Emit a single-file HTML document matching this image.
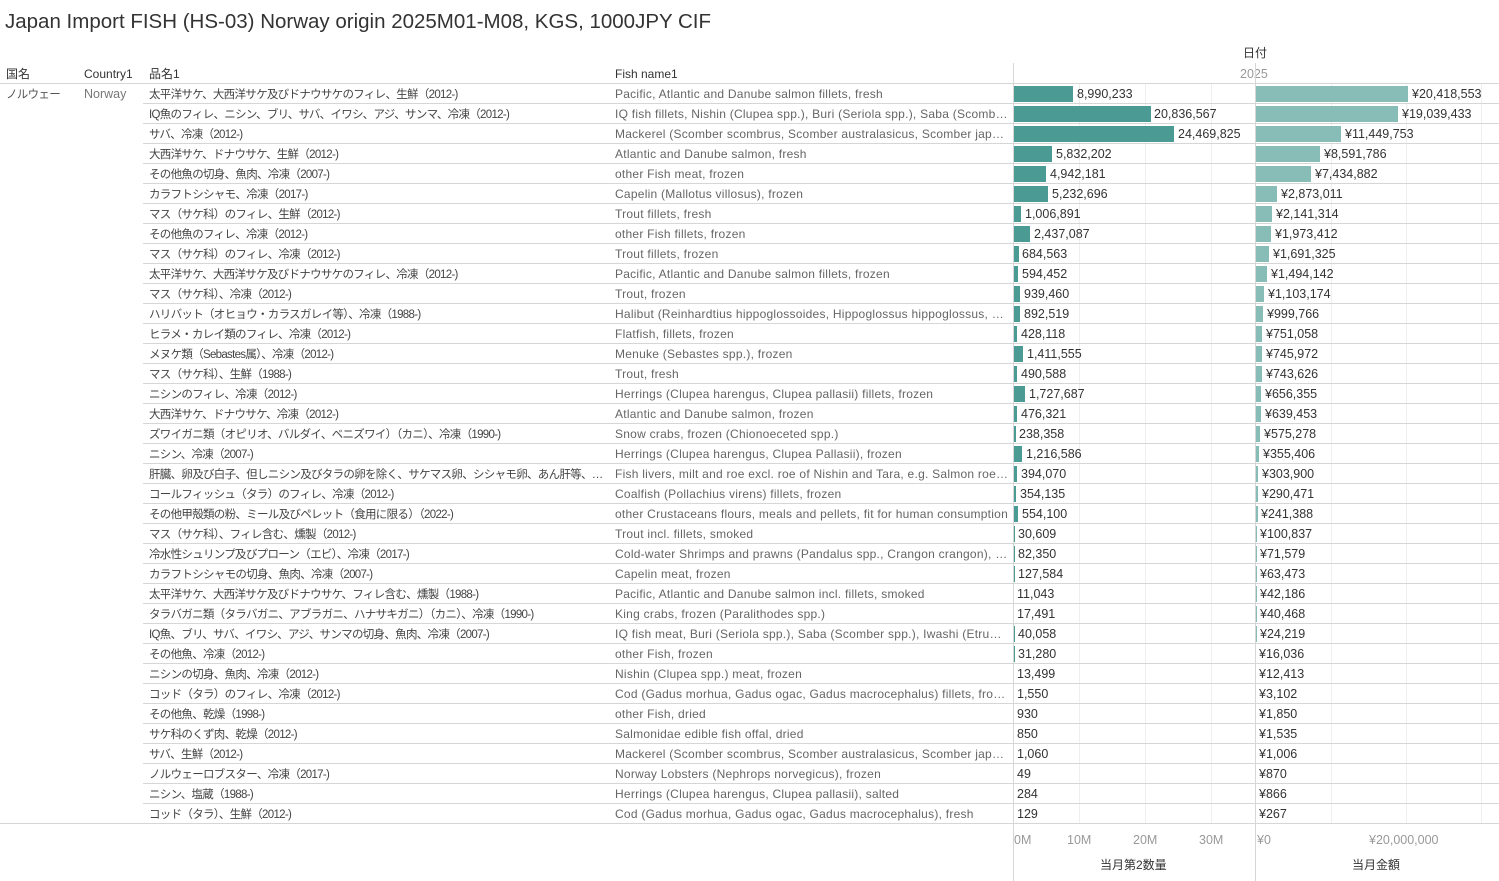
<!DOCTYPE html>
<html><head><meta charset="utf-8">
<style>
body{margin:0;width:1499px;height:881px;background:#fff;position:relative;overflow:hidden;font-family:"Liberation Sans","Noto Sans CJK JP",sans-serif;color:#333}
.a{position:absolute;white-space:nowrap;line-height:14px}
.t{font-size:20.5px;left:5px;top:11px;color:#333;line-height:22px}
.h{font-size:12px;top:67px;color:#333}
.r{position:absolute;left:0;width:1499px;height:20px;font-size:12.5px}
.r span{position:absolute;top:3px;line-height:14px;white-space:nowrap;overflow:hidden;text-overflow:ellipsis}
.r span.j{left:149px;top:4px;width:460px;color:#444;font-size:11.5px;letter-spacing:-0.7px}
.e{left:615px;width:395px;color:#666;font-size:12px;letter-spacing:0.25px}
.q{position:absolute;left:1014px;top:2px;height:16px;background:#4c9a94}
.m{position:absolute;left:1256px;top:2px;height:16px;background:#87bdb6}
.ln{position:absolute;background:#d6d6d6}
.g{position:absolute;top:84px;height:740px;width:1px;background:#efefef}
.tk{position:absolute;top:833px;font-size:12.5px;color:#999;line-height:14px}
</style></head><body>
<div class="a t">Japan Import FISH (HS-03) Norway origin 2025M01-M08, KGS, 1000JPY CIF</div>
<div class="a" style="left:1243px;top:46px;font-size:12px">日付</div>
<div class="a" style="left:1240px;top:67px;font-size:12.5px;color:#999">2025</div>
<div class="a h" style="left:6px">国名</div>
<div class="a h" style="left:84px">Country1</div>
<div class="a h" style="left:149px">品名1</div>
<div class="a h" style="left:615px">Fish name1</div>
<div class="a" style="left:6px;top:88px;font-size:11.5px;letter-spacing:-0.7px;color:#555">ノルウェー</div>
<div class="a" style="left:84px;top:87px;font-size:12.5px;color:#777">Norway</div>
<div class="g" style="left:1079px"></div><div class="g" style="left:1145px"></div><div class="g" style="left:1211px"></div>
<div class="g" style="left:1331px"></div><div class="g" style="left:1406px"></div><div class="g" style="left:1481px"></div>
<div class="ln" style="left:0;top:83px;width:1499px;height:1px"></div>
<div class="ln" style="left:0;top:823px;width:1499px;height:1px"></div>
<div class="ln" style="left:1013px;top:63px;width:1px;height:818px"></div>
<div class="ln" style="left:1255px;top:63px;width:1px;height:818px"></div>
<div id="rows"></div>
<div class="tk" style="left:1014px">0M</div>
<div class="tk" style="left:1067px">10M</div>
<div class="tk" style="left:1133px">20M</div>
<div class="tk" style="left:1199px">30M</div>
<div class="tk" style="left:1257px">¥0</div>
<div class="tk" style="left:1369px">¥20,000,000</div>
<div class="a" style="left:1100px;top:858px;font-size:12px">当月第2数量</div>
<div class="a" style="left:1352px;top:858px;font-size:12px">当月金額</div>
<script>
var d=[
["太平洋サケ、大西洋サケ及びドナウサケのフィレ、生鮮（2012-)","Pacific, Atlantic and Danube salmon fillets, fresh",8990233,20418553],
["IQ魚のフィレ、ニシン、ブリ、サバ、イワシ、アジ、サンマ、冷凍（2012-)","IQ fish fillets, Nishin (Clupea spp.), Buri (Seriola spp.), Saba (Scomber spp.)",20836567,19039433],
["サバ、冷凍（2012-)","Mackerel (Scomber scombrus, Scomber australasicus, Scomber japonicus)",24469825,11449753],
["大西洋サケ、ドナウサケ、生鮮（2012-)","Atlantic and Danube salmon, fresh",5832202,8591786],
["その他魚の切身、魚肉、冷凍（2007-)","other Fish meat, frozen",4942181,7434882],
["カラフトシシャモ、冷凍（2017-)","Capelin (Mallotus villosus), frozen",5232696,2873011],
["マス（サケ科）のフィレ、生鮮（2012-)","Trout fillets, fresh",1006891,2141314],
["その他魚のフィレ、冷凍（2012-)","other Fish fillets, frozen",2437087,1973412],
["マス（サケ科）のフィレ、冷凍（2012-)","Trout fillets, frozen",684563,1691325],
["太平洋サケ、大西洋サケ及びドナウサケのフィレ、冷凍（2012-)","Pacific, Atlantic and Danube salmon fillets, frozen",594452,1494142],
["マス（サケ科）、冷凍（2012-)","Trout, frozen",939460,1103174],
["ハリバット（オヒョウ・カラスガレイ等）、冷凍（1988-)","Halibut (Reinhardtius hippoglossoides, Hippoglossus hippoglossus, Hippoglossus)",892519,999766],
["ヒラメ・カレイ類のフィレ、冷凍（2012-)","Flatfish, fillets, frozen",428118,751058],
["メヌケ類（Sebastes属）、冷凍（2012-)","Menuke (Sebastes spp.), frozen",1411555,745972],
["マス（サケ科）、生鮮（1988-)","Trout, fresh",490588,743626],
["ニシンのフィレ、冷凍（2012-)","Herrings (Clupea harengus, Clupea pallasii) fillets, frozen",1727687,656355],
["大西洋サケ、ドナウサケ、冷凍（2012-)","Atlantic and Danube salmon, frozen",476321,639453],
["ズワイガニ類（オピリオ、バルダイ、ベニズワイ）（カニ）、冷凍（1990-)","Snow crabs, frozen (Chionoeceted spp.)",238358,575278],
["ニシン、冷凍（2007-)","Herrings (Clupea harengus, Clupea Pallasii), frozen",1216586,355406],
["肝臓、卵及び白子、但しニシン及びタラの卵を除く、サケマス卵、シシャモ卵、あん肝等、冷凍（2012-)","Fish livers, milt and roe excl. roe of Nishin and Tara, e.g. Salmon roe, Capelin roe",394070,303900],
["コールフィッシュ（タラ）のフィレ、冷凍（2012-)","Coalfish (Pollachius virens) fillets, frozen",354135,290471],
["その他甲殻類の粉、ミール及びペレット（食用に限る）（2022-)","other Crustaceans flours, meals and pellets, fit for human consumption",554100,241388],
["マス（サケ科）、フィレ含む、燻製（2012-)","Trout incl. fillets, smoked",30609,100837],
["冷水性シュリンプ及びプローン（エビ）、冷凍（2017-)","Cold-water Shrimps and prawns (Pandalus spp., Crangon crangon), frozen",82350,71579],
["カラフトシシャモの切身、魚肉、冷凍（2007-)","Capelin meat, frozen",127584,63473],
["太平洋サケ、大西洋サケ及びドナウサケ、フィレ含む、燻製（1988-)","Pacific, Atlantic and Danube salmon incl. fillets, smoked",11043,42186],
["タラバガニ類（タラバガニ、アブラガニ、ハナサキガニ）（カニ）、冷凍（1990-)","King crabs, frozen (Paralithodes spp.)",17491,40468],
["IQ魚、ブリ、サバ、イワシ、アジ、サンマの切身、魚肉、冷凍（2007-)","IQ fish meat, Buri (Seriola spp.), Saba (Scomber spp.), Iwashi (Etrumeus)",40058,24219],
["その他魚、冷凍（2012-)","other Fish, frozen",31280,16036],
["ニシンの切身、魚肉、冷凍（2012-)","Nishin (Clupea spp.) meat, frozen",13499,12413],
["コッド（タラ）のフィレ、冷凍（2012-)","Cod (Gadus morhua, Gadus ogac, Gadus macrocephalus) fillets, frozen",1550,3102],
["その他魚、乾燥（1998-)","other Fish, dried",930,1850],
["サケ科のくず肉、乾燥（2012-)","Salmonidae edible fish offal, dried",850,1535],
["サバ、生鮮（2012-)","Mackerel (Scomber scombrus, Scomber australasicus, Scomber japonicus)",1060,1006],
["ノルウェーロブスター、冷凍（2017-)","Norway Lobsters (Nephrops norvegicus), frozen",49,870],
["ニシン、塩蔵（1988-)","Herrings (Clupea harengus, Clupea pallasii), salted",284,866],
["コッド（タラ）、生鮮（2012-)","Cod (Gadus morhua, Gadus ogac, Gadus macrocephalus), fresh",129,267]];
var h="";
d.forEach(function(r,i){
 var top=84+i*20,qw=r[2]/1e6*6.55,mw=r[3]/1e6*7.45;
 if(qw<1&&qw>0.15)qw=1; if(qw<=0.15)qw=0;
 if(mw<1&&mw>0.15)mw=1; if(mw<=0.15)mw=0;
 var f=function(n){return n.toLocaleString("en-US")};
 h+='<div class="r" style="top:'+top+'px">'+
 '<span class="j">'+r[0]+'</span><span class="e">'+r[1]+'</span>'+
 (qw?'<div class="q" style="width:'+qw.toFixed(1)+'px"></div>':'')+
 (mw?'<div class="m" style="width:'+mw.toFixed(1)+'px"></div>':'')+
 '<span style="left:'+(1017+Math.round(qw)+(qw>2?1:0))+'px;color:#333">'+f(r[2])+'</span>'+
 '<span style="left:'+(1259+Math.round(mw)+(mw>2?1:0))+'px;color:#333">¥'+f(r[3])+'</span></div>';
 if(i<d.length-1)h+='<div class="ln" style="left:143px;top:'+(top+19)+'px;width:1356px;height:1px"></div>';
});
document.getElementById("rows").innerHTML=h;
</script>
</body></html>
